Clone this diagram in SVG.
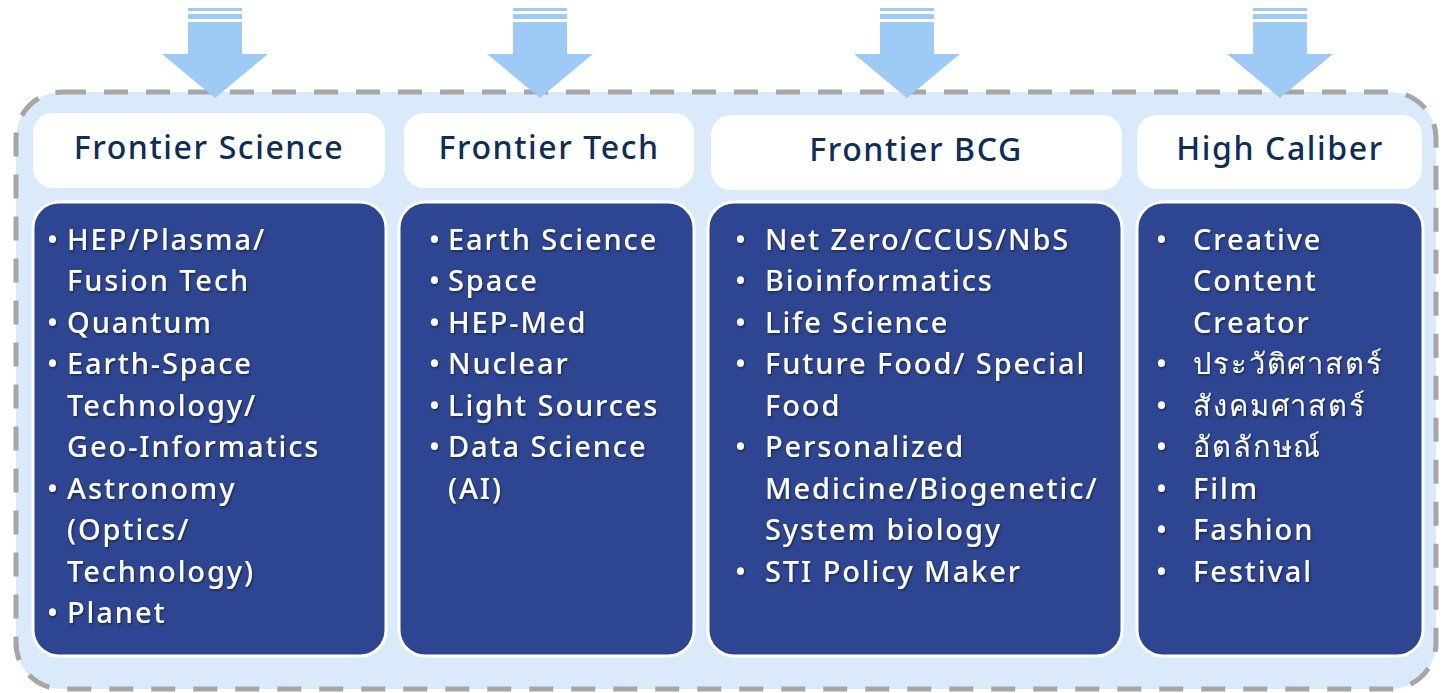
<svg xmlns="http://www.w3.org/2000/svg" width="1446" height="693" viewBox="0 0 1446 693">
<defs>
<style>
.hdr{fill:#fff;}
.hdrt{font-family:"Noto Sans","Open Sans","DejaVu Sans",sans-serif;font-size:32px;font-weight:500;letter-spacing:1.6px;fill:#0E2D57;text-anchor:middle;}
.body{fill:#2E4591;stroke:#fff;stroke-width:3;}
.bt{font-family:"Noto Sans","Open Sans","DejaVu Sans",sans-serif;font-size:29px;font-weight:500;letter-spacing:1.9px;fill:#fff;filter:url(#sh);}
.arr{fill:#9DCBF5;}
</style>
<filter id="sh" x="-5%" y="-20%" width="110%" height="140%">
<feDropShadow dx="1" dy="1.5" stdDeviation="0.8" flood-color="#000" flood-opacity="0.45"/>
</filter>
<g id="arrowShape">
<rect x="-27" y="8" width="54" height="3"/>
<rect x="-27" y="14" width="54" height="5"/>
<polygon points="-27,22 27,22 27,54 53,54 0,98 -53,54 -27,54"/>
</g>
</defs>
<rect id="frame" x="16" y="92" width="1420" height="597" rx="46" ry="46" fill="#DAEAFA" stroke="#A6A6A6" stroke-width="5" stroke-dasharray="24 18"/>
<g id="arrows" class="arr">
<use href="#arrowShape" x="215" y="0"/>
<use href="#arrowShape" x="540" y="0"/>
<use href="#arrowShape" x="907" y="0"/>
<use href="#arrowShape" x="1280" y="0"/>
</g>
<g id="col1">
<rect class="hdr" x="33" y="113" width="352" height="75" rx="20"/>
<text class="hdrt" x="209" y="159">Frontier Science</text>
<rect class="body" x="33" y="202" width="353" height="454" rx="26"/>
<text class="bt">
<tspan x="47" y="250">•</tspan><tspan x="67" y="250">HEP/Plasma/</tspan>
<tspan x="67" y="291">Fusion Tech</tspan>
<tspan x="47" y="333">•</tspan><tspan x="67" y="333">Quantum</tspan>
<tspan x="47" y="374">•</tspan><tspan x="67" y="374">Earth-Space</tspan>
<tspan x="67" y="416">Technology/</tspan>
<tspan x="67" y="457">Geo-Informatics</tspan>
<tspan x="47" y="499">•</tspan><tspan x="67" y="499">Astronomy</tspan>
<tspan x="67" y="540">(Optics/</tspan>
<tspan x="67" y="582">Technology)</tspan>
<tspan x="47" y="623">•</tspan><tspan x="67" y="623">Planet</tspan>
</text>
</g>
<g id="col2">
<rect class="hdr" x="404" y="113" width="290" height="75" rx="20"/>
<text class="hdrt" x="549" y="159">Frontier Tech</text>
<rect class="body" x="399" y="202" width="295" height="454" rx="26"/>
<text class="bt">
<tspan x="429" y="250">•</tspan><tspan x="448" y="250">Earth Science</tspan>
<tspan x="429" y="291">•</tspan><tspan x="448" y="291">Space</tspan>
<tspan x="429" y="333">•</tspan><tspan x="448" y="333">HEP-Med</tspan>
<tspan x="429" y="374">•</tspan><tspan x="448" y="374">Nuclear</tspan>
<tspan x="429" y="416">•</tspan><tspan x="448" y="416">Light Sources</tspan>
<tspan x="429" y="457">•</tspan><tspan x="448" y="457">Data Science</tspan>
<tspan x="448" y="499">(AI)</tspan>
</text>
</g>
<g id="col3">
<rect class="hdr" x="711" y="115" width="411" height="75" rx="20"/>
<text class="hdrt" x="916" y="161">Frontier BCG</text>
<rect class="body" x="708" y="202" width="414" height="454" rx="26"/>
<text class="bt">
<tspan x="735" y="250">•</tspan><tspan x="765" y="250">Net Zero/CCUS/NbS</tspan>
<tspan x="735" y="291">•</tspan><tspan x="765" y="291">Bioinformatics</tspan>
<tspan x="735" y="333">•</tspan><tspan x="765" y="333">Life Science</tspan>
<tspan x="735" y="374">•</tspan><tspan x="765" y="374">Future Food/ Special</tspan>
<tspan x="765" y="416">Food</tspan>
<tspan x="735" y="457">•</tspan><tspan x="765" y="457">Personalized</tspan>
<tspan x="765" y="499">Medicine/Biogenetic/</tspan>
<tspan x="765" y="540">System biology</tspan>
<tspan x="735" y="582">•</tspan><tspan x="765" y="582">STI Policy Maker</tspan>
</text>
</g>
<g id="col4">
<rect class="hdr" x="1137" y="115" width="285" height="74" rx="20"/>
<text class="hdrt" x="1280" y="160">High Caliber</text>
<rect class="body" x="1137" y="202" width="286" height="454" rx="26"/>
<text class="bt">
<tspan x="1156" y="250">•</tspan><tspan x="1193" y="250">Creative</tspan>
<tspan x="1193" y="291">Content</tspan>
<tspan x="1193" y="333">Creator</tspan>
<tspan x="1156" y="374">•</tspan><tspan x="1193" y="374">ประวัติศาสตร์</tspan>
<tspan x="1156" y="416">•</tspan><tspan x="1193" y="416">สังคมศาสตร์</tspan>
<tspan x="1156" y="457">•</tspan><tspan x="1193" y="457">อัตลักษณ์</tspan>
<tspan x="1156" y="499">•</tspan><tspan x="1193" y="499">Film</tspan>
<tspan x="1156" y="540">•</tspan><tspan x="1193" y="540">Fashion</tspan>
<tspan x="1156" y="582">•</tspan><tspan x="1193" y="582">Festival</tspan>
</text>
</g>
</svg>
